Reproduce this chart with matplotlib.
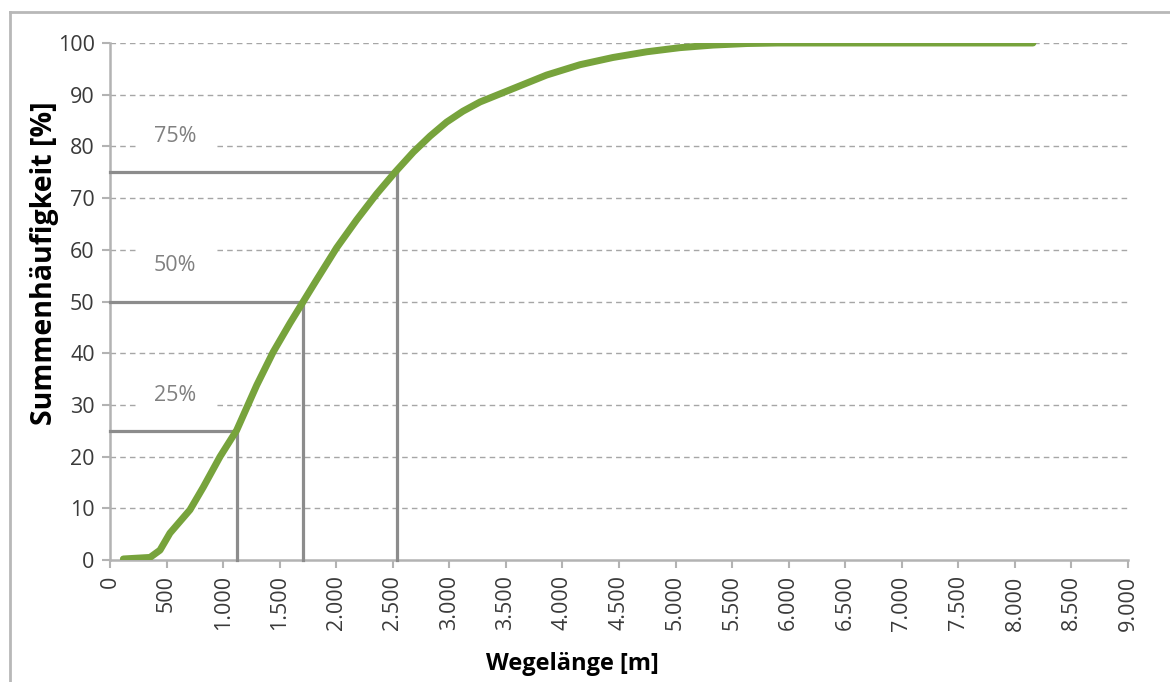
import matplotlib
matplotlib.use('Agg')
import matplotlib.pyplot as plt
from matplotlib.lines import Line2D
from matplotlib.ticker import FuncFormatter

# Wegelänge [m] und Summenhäufigkeit [%]
weg = [118, 354, 442, 530, 707, 825, 973, 1120, 1297, 1442, 1591, 1709, 1827,
       2004, 2181, 2357, 2520, 2682, 2830, 2976, 3120, 3272, 3566, 3860, 4155,
       4447, 4745, 5039, 5333, 5630, 5900, 6500, 7500, 8160]
summe = [0.2, 0.5, 1.9, 5.2, 9.7, 14.1, 20.0, 25.1, 33.8, 40.2, 45.8, 50.0, 54.2,
         60.4, 65.8, 70.8, 75.0, 78.9, 82.0, 84.7, 86.8, 88.6, 91.2, 93.8, 95.8,
         97.2, 98.3, 99.1, 99.6, 99.9, 100, 100, 100, 100]

quartil_x = [1120, 1709, 2535]
quartil_y = [25, 50, 75]
quartil_txt = ['25%', '50%', '75%']

plt.rcParams['font.family'] = ['Open Sans', 'DejaVu Sans']

fig = plt.figure(figsize=(11.7, 6.82), dpi=100)
ax = fig.add_axes([110 / 1170, 1 - 560 / 682, 1018 / 1170, 517 / 682])

achse = '#b3b3b3'
ax.set_xlim(0, 9000)
ax.set_ylim(0, 100)
ax.set_xticks(range(0, 9001, 500))
ax.set_yticks(range(0, 101, 10))
ax.xaxis.set_major_formatter(FuncFormatter(lambda v, p: f'{int(v):,}'.replace(',', '.')))
ax.tick_params(axis='x', rotation=90, labelsize=15.5, colors='#3a3a3a', length=6, color=achse, width=1.5, pad=5)
ax.tick_params(axis='y', labelsize=15.5, colors='#3a3a3a', length=6, color=achse, width=1.5, pad=5)
for s in ['top', 'right']:
    ax.spines[s].set_visible(False)
for s in ['left', 'bottom']:
    ax.spines[s].set_color(achse)
    ax.spines[s].set_linewidth(1.8)

for yv in range(10, 101, 10):
    ax.axhline(yv, color='#a6a6a6', linestyle=(0, (4, 3)), linewidth=1, zorder=1)

# Quartilslinien
for qx, qy, txt in zip(quartil_x, quartil_y, quartil_txt):
    ax.plot([0, qx], [qy, qy], color='#8c8c8c', linewidth=2.3, zorder=3, clip_on=False)
    ax.plot([qx, qx], [0, qy], color='#8c8c8c', linewidth=2.3, zorder=3, clip_on=False)
    ax.text(575, qy + 6.9, txt, ha='center', va='center', fontsize=15.5, color='#808080',
            zorder=4, bbox=dict(facecolor='white', edgecolor='none', pad=13))

ax.plot(weg, summe, color='#77a33c', linewidth=5, solid_capstyle='round',
        solid_joinstyle='round', zorder=5)

fig.text(572 / 1170, 1 - 664 / 682, 'Wegelänge [m]', ha='center', va='center',
         fontsize=17, fontweight='bold')
fig.text(45 / 1170, 1 - 263 / 682, 'Summenhäufigkeit [%]', ha='center', va='center',
         rotation=90, fontsize=20.5, fontweight='bold')

# Rahmen
fig.add_artist(Line2D([10 / 1170, 1], [1 - 12 / 682, 1 - 12 / 682], color='#b8b8b8', linewidth=2,
                      transform=fig.transFigure))
fig.add_artist(Line2D([10 / 1170, 10 / 1170], [0, 1 - 12 / 682], color='#b8b8b8', linewidth=2,
                      transform=fig.transFigure))

fig.savefig('out.png', dpi=100)
